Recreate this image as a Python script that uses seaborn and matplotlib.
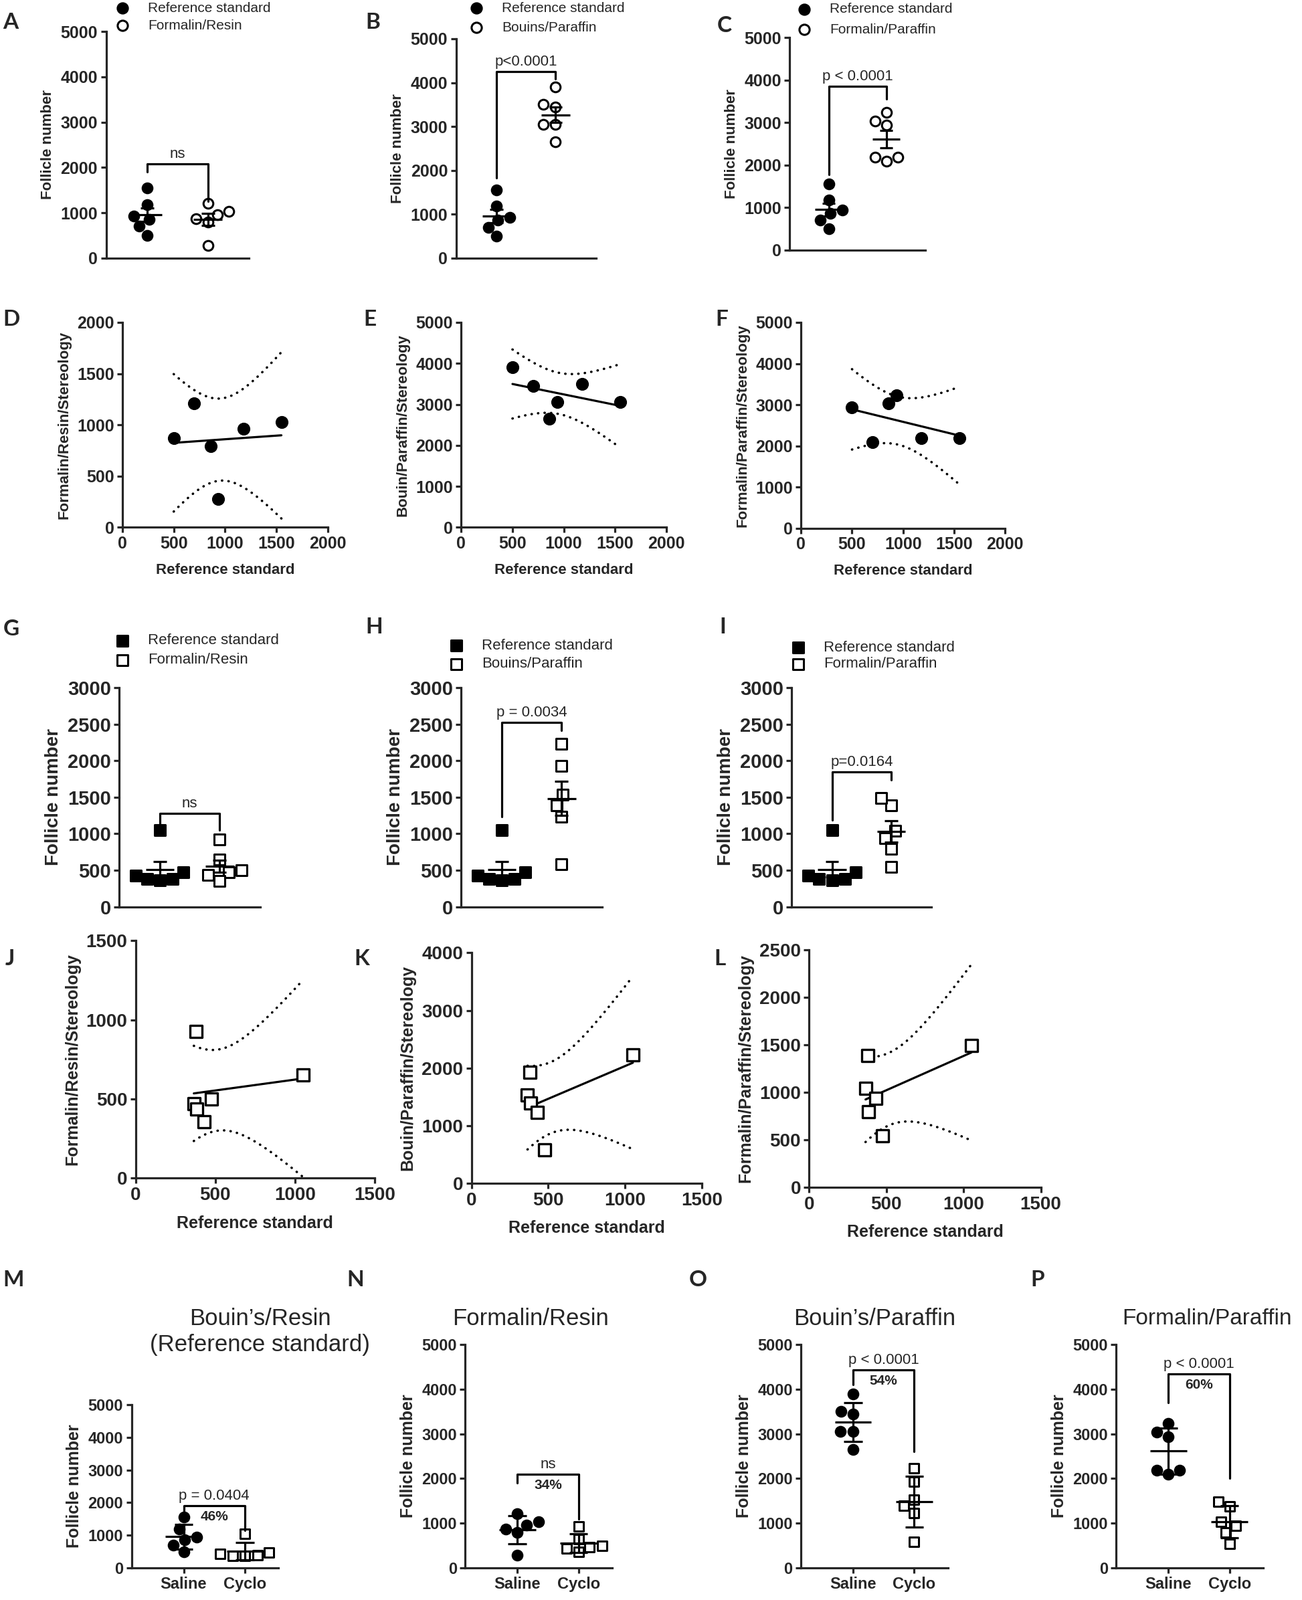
import numpy as np
import seaborn as sns
import matplotlib
matplotlib.use("Agg")
import matplotlib.pyplot as plt

# ---- data ----
# saline animals (n=6), same animals in every method
ref_saline = [500, 700, 860, 935, 1180, 1550]           # Bouin's/Resin (reference standard)
formalin_resin_saline = [870, 1210, 790, 280, 960, 1030]
bouins_paraffin_saline = [3900, 3450, 2650, 3050, 3500, 3050]
formalin_paraffin_saline = [2940, 2090, 3040, 3235, 2190, 2190]

# cyclophosphamide animals (n=6)
ref_cyclo = [380, 365, 385, 430, 475, 1050]
formalin_resin_cyclo = [925, 470, 435, 355, 500, 650]
bouins_paraffin_cyclo = [1930, 1535, 1390, 1235, 580, 2230]
formalin_paraffin_cyclo = [1385, 1040, 795, 940, 545, 1490]

treatments = ["Saline", "Cyclo"]
methods = ["Formalin/Resin", "Bouins/Paraffin", "Formalin/Paraffin"]
reg_ylabels = ["Formalin/Resin/Stereology", "Bouin/Paraffin/Stereology", "Formalin/Paraffin/Stereology"]
bottom_titles = ["Bouin\u2019s/Resin\n(Reference standard)", "Formalin/Resin", "Bouin\u2019s/Paraffin", "Formalin/Paraffin"]
p_top = ["ns", "p<0.0001", "p < 0.0001"]
p_mid = ["ns", "p = 0.0034", "p=0.0164"]
p_bottom = ["p = 0.0404", "ns", "p < 0.0001", "p < 0.0001"]
pct_bottom = ["46%", "34%", "54%", "60%"]

sns.set_style("ticks")
plt.rcParams["font.family"] = ["Liberation Sans", "DejaVu Sans"]
LETTER_FONT = ["Lato", "DejaVu Sans"]
LW = 2.3

W, H = 1946, 2392
SW, SH = 1276.0, 1276.0 * H / W   # layout coordinates (reference shown size)

fig = plt.figure(figsize=(W / 100, H / 100), dpi=100)
ov = fig.add_axes([0, 0, 1, 1])
ov.set_xlim(0, SW)
ov.set_ylim(SH, 0)
ov.axis("off")


def panel(l, t, r, b):
    ax = fig.add_axes([l / SW, 1 - b / SH, (r - l) / SW, (b - t) / SH])
    ax.set_facecolor("none")
    return ax


def finish(ax, ymax, ystep, fs):
    ax.set_ylim(0, ymax)
    ax.set_yticks(np.arange(0, ymax + 1, ystep))
    sns.despine(ax=ax)
    for s in ("left", "bottom"):
        ax.spines[s].set_linewidth(LW)
    ax.tick_params(width=LW, length=6, labelsize=fs, pad=3)
    plt.setp(ax.get_yticklabels() + ax.get_xticklabels(), fontweight="bold")


def dot_plot(ax, cats, groups, markers, fills, err, size, half, cap, xlim):
    for i, (vals, mk, fc) in enumerate(zip(groups, markers, fills)):
        sns.swarmplot(x=[cats[i]] * len(vals), y=vals, order=cats, ax=ax, marker=mk,
                      color=fc, edgecolor="black", linewidth=2.2, size=size, zorder=2,
                      clip_on=False)
        m = np.mean(vals)
        e = np.std(vals, ddof=1)
        if err == "se":
            e = e / np.sqrt(len(vals))
        ax.hlines(m, i - half, i + half, color="black", lw=LW, zorder=3)
        ax.vlines(i, m - e, m + e, color="black", lw=LW, zorder=3)
        ax.hlines([m - e, m + e], i - cap, i + cap, color="black", lw=LW, zorder=3)
    ax.set_xlim(*xlim)


def bracket(ax, top, left, right, text, fs, pct=None):
    ax.plot([0, 0, 1, 1], [left, top, top, right], color="black", lw=LW, clip_on=False)
    ax.annotate(text, (0.5, top), xytext=(0, 3), textcoords="offset points",
                ha="center", va="bottom", fontsize=fs)
    if pct:
        ax.annotate(pct, (0.5, top), xytext=(0, -5), textcoords="offset points",
                    ha="center", va="top", fontsize=fs - 1, fontweight="bold")


def conf_band(x, y, t=2.776):
    x = np.asarray(x, float)
    y = np.asarray(y, float)
    b, a = np.polyfit(x, y, 1)
    xs = np.linspace(x.min(), x.max(), 80)
    s = np.sqrt(np.sum((y - (a + b * x)) ** 2) / (len(x) - 2))
    se = s * np.sqrt(1 / len(x) + (xs - x.mean()) ** 2 / np.sum((x - x.mean()) ** 2))
    return xs, a + b * xs - t * se, a + b * xs + t * se


def reg_plot(ax, x, y, marker, fc, s, xmax, ymax, ystep, fs, lfs, ylab):
    xs, lo, hi = conf_band(x, y)
    for band in (lo, hi):
        ax.plot(xs, band, color="black", lw=2.6, ls=(0, (0.1, 2.6)), dash_capstyle="round")
    sns.regplot(x=x, y=y, ax=ax, scatter=False, ci=None, color="black", line_kws=dict(lw=LW))
    sns.scatterplot(x=x, y=y, ax=ax, marker=marker, s=s, color=fc, edgecolor="black",
                    linewidth=2.4, zorder=4, clip_on=False, legend=False)
    ax.set_xlim(0, xmax)
    ax.set_xticks(np.arange(0, xmax + 1, 500))
    finish(ax, ymax, ystep, fs)
    ax.set_xlabel("Reference standard", fontsize=lfs, fontweight="bold", labelpad=12)
    ax.set_ylabel(ylab, fontsize=lfs, fontweight="bold", labelpad=6)


def legend_rows(x, ys, labels, marker, fs, ms):
    for y, lab, fc in zip(ys, labels, ["black", "white"]):
        ov.scatter([x], [y], marker=marker, s=ms, facecolor=fc, edgecolor="black",
                   linewidth=2.2, clip_on=False)
        ov.text(x + 25, y, lab, fontsize=fs, va="center", ha="left")


# ---- row 1: A-C, circles, mean +/- SEM ----
top_boxes = [(104, 31, 244, 253), (447, 38, 584, 253), (774, 37, 907, 245)]
top_other = [formalin_resin_saline, bouins_paraffin_saline, formalin_paraffin_saline]
top_br = [(2080, 1900, 1250), (4250, 1830, 4080), (3850, 1770, 3560)]
top_leg = [(120, (8, 25)), (467, (8, 27)), (788, (9, 29))]
for box, other, name, br, ptxt, leg in zip(top_boxes, top_other, methods, top_br, p_top, top_leg):
    ax = panel(*box)
    cats = ["Reference standard", name]
    dot_plot(ax, cats, [ref_saline, other], ["o", "o"], ["black", "white"], "se",
             10.5, 0.24, 0.11, (-0.68, 1.68))
    finish(ax, 5000, 1000, 18)
    ax.set_xticks([])
    ax.set_ylabel("Follicle number", fontsize=16, fontweight="bold", labelpad=6)
    bracket(ax, *br, ptxt, 16)
    legend_rows(leg[0], leg[1], cats, "o", 15, 120)

# ---- row 2: D-F, regressions vs reference ----
reg_boxes = [(120, 316, 321, 517), (452, 316, 653, 517), (785, 316, 985, 518)]
reg_ymax = [(2000, 500), (5000, 1000), (5000, 1000)]
for box, other, ylab, (ym, st) in zip(reg_boxes, top_other, reg_ylabels, reg_ymax):
    ax = panel(*box)
    reg_plot(ax, ref_saline, other, "o", "black", 130, 2000, ym, st, 18, 16, ylab)

# ---- row 3: G-I, squares, mean +/- SEM ----
mid_boxes = [(117, 674, 255, 889), (452, 674, 590, 889), (776, 674, 913, 889)]
mid_other = [formalin_resin_cyclo, bouins_paraffin_cyclo, formalin_paraffin_cyclo]
mid_br = [(1276, 1123, 1047), (2520, 1237, 2413), (1848, 1189, 1738)]
mid_leg = [(120, (628, 647)), (447, (633, 651)), (782, (635, 651))]
for box, other, name, br, ptxt, leg in zip(mid_boxes, mid_other, methods, mid_br, p_mid, mid_leg):
    ax = panel(*box)
    cats = ["Reference standard", name]
    dot_plot(ax, cats, [ref_cyclo, other], ["s", "s"], ["black", "white"], "se",
             11, 0.24, 0.11, (-0.68, 1.68))
    finish(ax, 3000, 500, 21)
    ax.set_xticks([])
    ax.set_ylabel("Follicle number", fontsize=20, fontweight="bold", labelpad=6)
    bracket(ax, *br, ptxt, 16)
    legend_rows(leg[0], leg[1], cats, "s", 16, 120)

# ---- row 4: J-L, regressions (cyclo) ----
reg2_boxes = [(133, 922, 367, 1155), (462, 934, 688, 1160), (793, 931, 1020, 1164)]
reg2_ymax = [(1500, 500), (4000, 1000), (2500, 500)]
for box, other, ylab, (ym, st) in zip(reg2_boxes, mid_other, reg_ylabels, reg2_ymax):
    ax = panel(*box)
    reg_plot(ax, ref_cyclo, other, "s", "white", 150, 1500, ym, st, 20, 18, ylab)

# ---- row 5: M-P, saline vs cyclo, mean +/- SD ----
bot_boxes = [(129, 1377, 273, 1537), (456, 1318, 600, 1537), (785, 1318, 929, 1537), (1094, 1318, 1238, 1537)]
bot_groups = [(ref_saline, ref_cyclo), (formalin_resin_saline, formalin_resin_cyclo),
              (bouins_paraffin_saline, bouins_paraffin_cyclo),
              (formalin_paraffin_saline, formalin_paraffin_cyclo)]
bot_br = [(1900, 1650, 1150), (2100, 1900, 1100), (4430, 4100, 2600), (4340, 3700, 2000)]
for box, grp, br, ptxt, pct in zip(bot_boxes, bot_groups, bot_br, p_bottom, pct_bottom):
    ax = panel(*box)
    dot_plot(ax, treatments, list(grp), ["o", "s"], ["black", "white"], "sd",
             10.5, 0.3, 0.15, (-0.85, 1.55))
    finish(ax, 5000, 1000, 17)
    ax.tick_params(axis="x", labelsize=17)
    ax.set_ylabel("Follicle number", fontsize=18, fontweight="bold", labelpad=6)
    bracket(ax, *br, ptxt, 16, pct)

# titles of bottom row
ov.text(255, 1293, bottom_titles[0].split("\n")[0], fontsize=25, ha="center", va="center")
ov.text(255, 1318, bottom_titles[0].split("\n")[1], fontsize=25, ha="center", va="center")
ov.text(520, 1293, bottom_titles[1], fontsize=25, ha="center", va="center")
ov.text(857, 1293, bottom_titles[2], fontsize=25, ha="center", va="center")
ov.text(1100, 1293, bottom_titles[3], fontsize=24, ha="left", va="center")

# panel letters
letters = {"A": (3, 22), "B": (358, 22), "C": (703, 25), "D": (3, 313), "E": (356, 313),
           "F": (701, 313), "G": (3, 617), "H": (358, 615), "I": (705, 615), "J": (5, 940),
           "K": (347, 940), "L": (700, 940), "M": (3, 1255), "N": (340, 1255),
           "O": (675, 1255), "P": (1010, 1255)}
for k, (x, y) in letters.items():
    ov.text(x, y, k, fontsize=24, fontweight="bold", family=LETTER_FONT, ha="left", va="center")

fig.savefig("out.png", dpi=100, facecolor="white")
